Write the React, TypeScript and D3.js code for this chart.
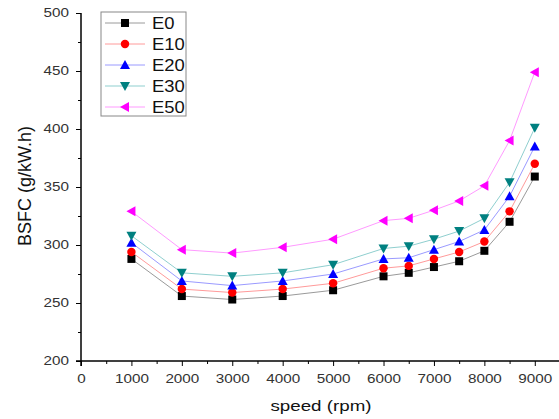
import React, { useEffect, useRef } from 'react'
import * as d3 from 'd3'

const speeds = [1000, 2000, 3000, 4000, 5000, 6000, 6500, 7000, 7500, 8000, 8500, 9000]
const e0 = [288, 256, 253, 256, 261, 273, 276, 281, 286, 295, 320, 359]
const e10 = [294, 262, 259, 262, 267, 280, 282, 288, 294, 303, 329, 370]
const e20 = [302, 269, 265, 269, 275, 288, 289, 296, 303, 313, 342, 385]
const e30 = [308, 276, 273, 276, 283, 297, 299, 305, 312, 323, 354, 401]
const e50 = [329, 296, 293, 298, 305, 321, 323, 330, 338, 351, 390, 449]
const seriesNames = ['E0', 'E10', 'E20', 'E30', 'E50']
const xTicks = [0, 1000, 2000, 3000, 4000, 5000, 6000, 7000, 8000, 9000]
const yTicks = [200, 250, 300, 350, 400, 450, 500]

const styles = [
  { line: '#9a9a9a', fill: '#000000', shape: 'square' },
  { line: '#ff9a9a', fill: '#ff0000', shape: 'circle' },
  { line: '#9a9aff', fill: '#0000ff', shape: 'up' },
  { line: '#8fcfcf', fill: '#008080', shape: 'down' },
  { line: '#ff9aff', fill: '#ff00ff', shape: 'left' },
]

function markerPath(shape: string) {
  if (shape === 'square') return 'M-4,-4H4V4H-4Z'
  if (shape === 'circle') return d3.symbol(d3.symbolCircle, 56)() as string
  if (shape === 'up') return 'M0,-5L5,4H-5Z'
  if (shape === 'down') return 'M0,5L5,-4H-5Z'
  return 'M-5,0L4,-5V5Z'
}

// the original export is a bit wider than it is tall, so stretch texts sideways
function stretch(sel: d3.Selection<any, any, any, any>, k: number) {
  sel.each(function () {
    const t = this as SVGTextElement
    const w = t.getComputedTextLength()
    if (w > 0) t.setAttribute('textLength', String(w * k))
    t.setAttribute('lengthAdjust', 'spacingAndGlyphs')
  })
}

export default function App() {
  const svgRef = useRef<SVGSVGElement>(null)

  useEffect(() => {
    const svg = d3.select(svgRef.current)
    svg.selectAll('*').remove()
    const data = [e0, e10, e20, e30, e50]

    const x = d3.scaleLinear().domain([0, 9500]).range([81, 560])
    const y = d3.scaleLinear().domain([200, 500]).range([361, 13])
    const font = 'Liberation Sans, Arial, sans-serif'

    const g = svg.append('g')

    // axes
    const xAxis = g.append('g').attr('transform', 'translate(0,361)')
      .call(d3.axisBottom(x).tickValues(xTicks).tickSize(5).tickFormat(d3.format('d')))
    xAxis.append('g').call(d3.axisBottom(x).tickValues(d3.range(500, 9600, 1000)).tickSize(3).tickFormat(() => ''))
    xAxis.selectAll('.domain').attr('d', 'M76,0H560')
    const yAxis = g.append('g').attr('transform', 'translate(81,0)')
      .call(d3.axisLeft(y).tickValues(yTicks).tickSize(5))
    yAxis.append('g').call(d3.axisLeft(y).tickValues(d3.range(225, 500, 50)).tickSize(3).tickFormat(() => ''))
    yAxis.selectAll('.domain').attr('d', 'M0,13V366')
    g.selectAll('.tick line').attr('stroke', '#000')
    g.selectAll('.domain').attr('stroke', '#000')
    g.selectAll('.tick text').attr('font-family', font).attr('font-size', 12.5).attr('fill', '#333')
    xAxis.selectAll('.tick text').attr('y', 22).attr('dy', null)
    yAxis.selectAll('.tick text').attr('x', -12).attr('dy', '0.3em')
    stretch(g.selectAll('.tick text'), 1.22)

    const xl = g.append('text').attr('x', 321).attr('y', 411).attr('text-anchor', 'middle')
      .attr('font-family', font).attr('font-size', 15).attr('fill', '#111').text('speed (rpm)')
    stretch(xl, 1.25)
    g.append('text').attr('transform', 'translate(31,186) rotate(-90)').attr('text-anchor', 'middle')
      .attr('font-family', font).attr('font-size', 18).attr('fill', '#111').text('BSFC (g/kW.h)')

    const line = d3.line<number>().x((d, i) => x(speeds[i])).y(d => y(d))
    data.forEach((vals, k) => {
      const s = styles[k]
      g.append('path').attr('d', line(vals)).attr('fill', 'none').attr('stroke', s.line).attr('stroke-width', 1)
    })
    data.forEach((vals, k) => {
      const s = styles[k]
      g.append('g').selectAll('path').data(vals).enter().append('path')
        .attr('d', markerPath(s.shape))
        .attr('transform', (d, i) => `translate(${x(speeds[i])},${y(d)})`)
        .attr('fill', s.fill)
    })

    // legend
    const lg = g.append('g')
    lg.append('rect').attr('x', 101).attr('y', 12).attr('width', 85).attr('height', 104)
      .attr('fill', '#fff').attr('stroke', '#888')
    seriesNames.forEach((name, k) => {
      const s = styles[k]
      const ry = 23 + k * 21
      lg.append('line').attr('x1', 105).attr('x2', 145).attr('y1', ry).attr('y2', ry).attr('stroke', s.line)
      lg.append('path').attr('d', markerPath(s.shape)).attr('transform', `translate(125,${ry})`).attr('fill', s.fill)
      const t = lg.append('text').attr('x', 152).attr('y', ry).attr('dy', '0.36em').attr('font-family', font)
        .attr('font-size', 16).attr('fill', '#111').text(name)
      stretch(t, 1.15)
    })
  }, [])

  return (
    <div style={{ width: '100%' }}>
      <svg ref={svgRef} width={559} height={419} style={{ position: 'absolute', left: 0, top: 0 }}></svg>
    </div>
  )
}
